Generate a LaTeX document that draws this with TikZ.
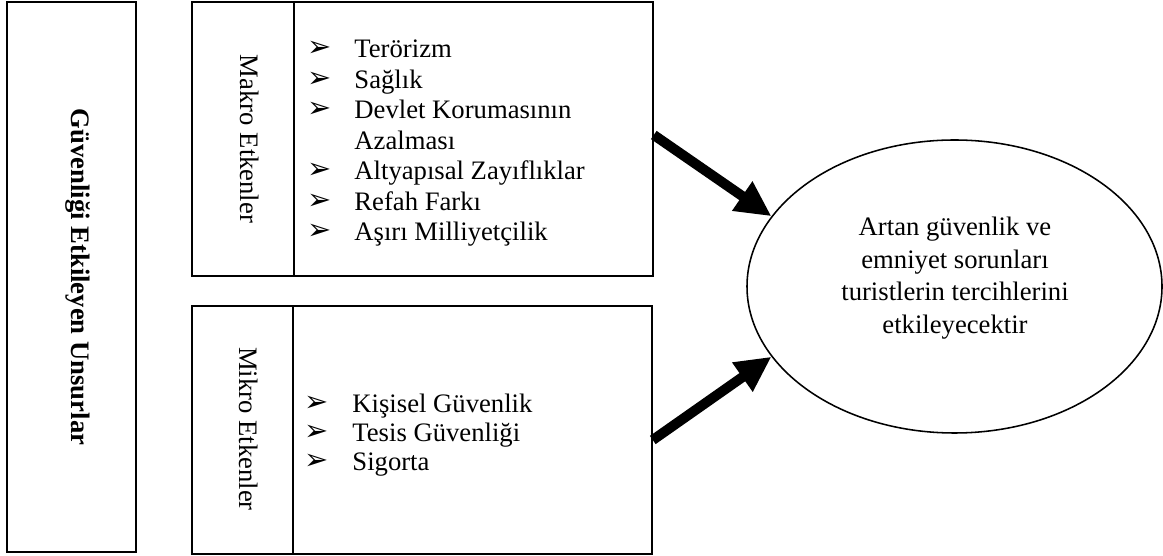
\documentclass[tikz,border=0pt]{standalone}
\usepackage{fontspec}
\setmainfont{Liberation Serif}
\newfontfamily\arrowfont{DejaVu Sans}
\usetikzlibrary{shapes.geometric, arrows.meta}

\tikzset{
  frame/.style={draw, line width=0.7pt, inner sep=0pt},
  item/.style={inner sep=0pt, anchor=base west, font=\fontsize{12}{14}\selectfont},
  bullet/.style={inner sep=0pt, anchor=base west, font=\arrowfont\fontsize{13}{14}\selectfont},
  push/.style={line width=4.5pt, -{Triangle[length=16pt, width=15pt]}},
}

\begin{document}
\begin{tikzpicture}[x=0.45pt, y=-0.45pt]
  \useasboundingbox (0,0) rectangle (1163,556);
  % left frame
  \node[frame, minimum width=58.05pt, minimum height=247.5pt] (unsur) at (71.5,277) {};
  \node[rotate=-90, inner sep=0pt, font=\bfseries\fontsize{12}{14}\selectfont] (unsurText) at (78,277) {Güvenliği Etkileyen Unsurlar};
  % makro
  \node[frame, minimum width=45.9pt, minimum height=123.3pt] (makroLabel) at (243,139) {};
  \node[frame, minimum width=161.55pt, minimum height=123.3pt] (makroList) at (473.5,139) {};
  \node[rotate=-90, inner sep=0pt, font=\fontsize{12}{14}\selectfont] (makroText) at (250,139) {Makro Etkenler};
  \foreach \y/\t [count=\i] in {58/Terörizm, 88.5/Sağlık, 119/Devlet Korumasının, 180/Altyapısal Zayıflıklar, 210.5/Refah Farkı, 241/Aşırı Milliyetçilik} {
    \node[bullet] (makroB\i) at (307,\y-1) {➢};
    \node[item] (makroI\i) at (354,\y) {\t};
  }
  \node[item] (makroCont) at (354,149.5) {Azalması};
  % mikro
  \node[frame, minimum width=45.45pt, minimum height=111.6pt] (mikroLabel) at (242.5,430) {};
  \node[frame, minimum width=161.55pt, minimum height=111.6pt] (mikroList) at (472.5,430) {};
  \node[rotate=-90, inner sep=0pt, font=\fontsize{12}{14}\selectfont] (mikroText) at (249,429) {Mikro Etkenler};
  \foreach \y/\t [count=\i] in {413/Kişisel Güvenlik, 442/Tesis Güvenliği, 471/Sigorta} {
    \node[bullet] (mikroB\i) at (304,\y-1) {➢};
    \node[item] (mikroI\i) at (352,\y) {\t};
  }
  % result
  \node[frame, ellipse, minimum width=186.75pt, minimum height=131.85pt] (result) at (954.5,286.5) {};
  \node[align=center, inner sep=0pt, font=\fontsize{12}{14.7}\selectfont] (resultText) at (955,278) {Artan güvenlik ve\\emniyet sorunları\\turistlerin tercihlerini\\etkileyecektir};
  \draw[push] ([yshift=1.8pt]makroList.east) -- (result.159);
  \draw[push] ([yshift=-4.5pt]mikroList.east) -- (result.201);
\end{tikzpicture}
\end{document}
